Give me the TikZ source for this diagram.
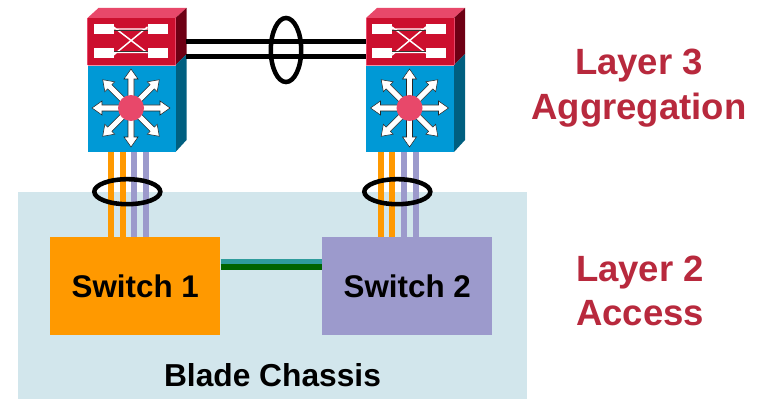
\documentclass[tikz,border=0pt]{standalone}
\usepackage{fontspec}
\setmainfont{Liberation Sans}
\usetikzlibrary{calc}
\definecolor{chassis}{HTML}{D2E6EC}
\definecolor{swA}{HTML}{FF9900}
\definecolor{swB}{HTML}{9C9ACC}
\definecolor{labelred}{HTML}{B8293D}
\definecolor{rtfront}{HTML}{CC0F2E}
\definecolor{rttop}{HTML}{E8486A}
\definecolor{rtside}{HTML}{6E0014}
\definecolor{blfront}{HTML}{0099D6}
\definecolor{blside}{HTML}{005F80}
\definecolor{teal}{HTML}{2E9C9C}
\definecolor{dkgreen}{HTML}{006400}
\tikzset{
 x=0.75pt,y=-0.75pt,
 chassisbox/.style={fill=chassis,draw=none,minimum width=381.75pt,minimum height=155.25pt,inner sep=0pt,anchor=north west},
 switchbox/.style={draw=none,minimum width=127.5pt,minimum height=73.5pt,inner sep=0pt,anchor=north west,font=\bfseries\fontsize{23.5pt}{26pt}\selectfont},
 layertext/.style={text=labelred,align=center,font=\bfseries\fontsize{27.4pt}{33.5pt}\selectfont},
 link/.style={line width=4.5pt},
 bundle/.style={draw=black,line width=3.4pt,fill=none},
 wlink/.style={line width=4.1pt,black},
 whitearrow/.style={draw=black!85,line width=0.4pt,fill=white},
}
% multilayer switch icon, #1 = origin, front top-left
\newcommand{\mlsicon}[1]{%
 \begin{scope}[shift={(#1)}]
  \fill[rttop] (0,10) -- (11,0) -- (99,0) -- (88,10) -- cycle;
  \fill[rtside] (88,10) -- (99,0) -- (99,46) -- (88,57) -- cycle;
  \fill[blside] (88,57) -- (99,46) -- (99,132) -- (88,144) -- cycle;
  \fill[rtfront] (0,10) rectangle (88,57);
  \fill[blfront] (0,57) rectangle (88,144);
  \draw[line width=.6pt,rttop!60!white] (0,57) -- (88,57);
  \draw[line width=.5pt,rttop] (0,10) -- (0,57) (88,10) -- (88,57);
  % crossing block
  \draw[white,line width=1.1pt] (26,21) -- (60,21) (26,44.5) -- (60,44.5) (26,19) -- (60,45) (26,47) -- (60,19);
  \draw[black!80,line width=.3pt] (26,22.5) -- (60,22.5) (26,43) -- (60,43);
  \fill[white] (6,16) rectangle (26,26);
  \fill[white] (60,16) rectangle (80,26);
  \fill[white] (6,40) rectangle (26,50);
  \fill[white] (60,40) rectangle (80,50);
  % arrows of the star
  \begin{scope}[shift={(43.5,100)}]
   \foreach \a/\l in {0/39,45/40,90/39,135/40,180/39,225/40,270/39,315/40}{
    \begin{scope}[rotate=\a]
     \filldraw[whitearrow] (8,-3) -- (\l-10,-3) -- (\l-10,-7) -- (\l,0) -- (\l-10,7) -- (\l-10,3) -- (8,3) -- cycle;
    \end{scope}
   }
   \fill[rttop] (0,0) circle (13);
  \end{scope}
 \end{scope}}
\begin{document}
\begin{tikzpicture}
\useasboundingbox (0,0) rectangle (762,399);
\fill[white] (0,0) rectangle (762,399);
\node[chassisbox] (chassis) at (18,192) {};
\coordinate (devA) at (87.5,8);
\coordinate (devB) at (366,8);
\node[layertext] (l3) at (639,88) {Layer 3\\Aggregation};
\node[layertext] (l2) at (640,291) {Layer 2\\Access};
\node[switchbox,fill=swA] (s1) at (50,237) {Switch 1};
\node[switchbox,fill=swB] (s2) at (322,237) {Switch 2};
\node[font=\bfseries\fontsize{23.8pt}{26pt}\selectfont,inner sep=0pt] (blade) at (272.5,375) {Blade Chassis};
% uplinks
\coordinate (a1) at (111,148);\coordinate (a2) at (122.7,148);\coordinate (a3) at (134.3,148);\coordinate (a4) at (146,148);
\coordinate (b1) at (381,148);\coordinate (b2) at (392,148);\coordinate (b3) at (404,148);\coordinate (b4) at (415.7,148);
\draw[link,swA] (a1) -- (a1 |- s1.north);
\draw[link,swA] (a2) -- (a2 |- s1.north);
\draw[link,swB] (a3) -- (a3 |- s1.north);
\draw[link,swB] (a4) -- (a4 |- s1.north);
\draw[link,swA] (b1) -- (b1 |- s2.north);
\draw[link,swA] (b2) -- (b2 |- s2.north);
\draw[link,swB] (b3) -- (b3 |- s2.north);
\draw[link,swB] (b4) -- (b4 |- s2.north);
% switch-to-switch link
\draw[line width=3.6pt,teal] ($(s1.east)+(0,-24.5)$) -- ($(s2.west)+(0,-24.5)$);
\draw[line width=4.2pt,dkgreen] ($(s1.east)+(0,-19)$) -- ($(s2.west)+(0,-19)$);
% devices
\mlsicon{devA}
\mlsicon{devB}
% interswitch links
\coordinate (ta) at (186,41.7);\coordinate (tb) at (366,41.7);
\coordinate (ua) at (186,56.7);\coordinate (ub) at (366,56.7);
\draw[wlink] (ta) -- (tb);
\draw[wlink] (ua) -- (ub);
% bundles
\coordinate (e1) at (127.3,191.7);
\coordinate (e2) at (397.3,191.7);
\coordinate (e3) at (286,50);
\draw[bundle] (e1) ellipse [x radius=33,y radius=12.5];
\draw[bundle] (e2) ellipse [x radius=33,y radius=12.5];
\draw[bundle] (e3) ellipse [x radius=15.2,y radius=32];
\end{tikzpicture}
\end{document}
